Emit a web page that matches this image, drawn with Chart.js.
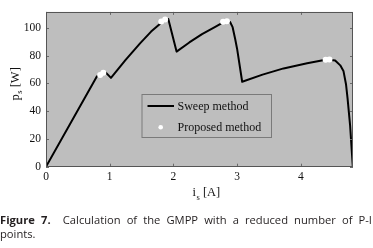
<!DOCTYPE html>
<html>
<head>
<meta charset="utf-8">
<script src="https://cdn.jsdelivr.net/npm/chart.js@4"></script>
<style>
  html, body { margin: 0; padding: 0; background: #fff; }
  #wrap { position: relative; width: 373px; height: 248px; overflow: hidden; }
  #caption {
    position: absolute; left: 0; top: 213px; width: 372px;
    font-family: "Open Sans", sans-serif; font-size: 11.2px; line-height: 14px;
    color: #231f20;
  }
  #caption .l1 { text-align: justify; text-align-last: justify; white-space: nowrap; }
  #caption b { font-weight: 700; }
</style>
</head>
<body>
<div id="wrap">
  <canvas id="pi" width="373" height="248"></canvas>
  <div id="caption">
    <div class="l1"><b>Figure 7.</b>&nbsp; Calculation of the GMPP with a reduced number of P-I</div>
    <div>points.</div>
  </div>
</div>
<script>
// sweep curve, current [A] and power [W]
var sweepI = [0, 0.80, 0.88, 0.94, 1.02, 1.25, 1.48, 1.65, 1.76, 1.85, 1.92, 2.05, 2.25, 2.45, 2.65, 2.81, 2.89,
  2.93, 2.97, 3.00, 3.08, 3.40, 3.73, 4.10, 4.41, 4.54, 4.62, 4.67, 4.71, 4.735, 4.774, 4.817];
var sweepP = [0, 65.1, 67.3, 67.8, 64.0, 77.0, 89.0, 97.3, 101.7, 105.2, 106.3, 82.9, 89.5, 95.5, 100.5, 104.6, 104.2,
  100.5, 92.0, 85.0, 61.2, 66.3, 70.8, 74.5, 77.2, 76.5, 73.0, 69.0, 59.4, 49.0, 30.0, 0];

// proposed method points
var propI = [0.85, 0.90, 1.81, 1.87, 2.78, 2.84, 4.39, 4.45];
var propP = [66.0, 67.6, 104.5, 106.0, 104.4, 104.8, 77.1, 77.3];

var xTicks = [0, 1, 2, 3, 4];
var yTicks = [0, 20, 40, 60, 80, 100];

function toXY(xs, ys) {
  return xs.map(function (x, i) { return { x: x, y: ys[i] }; });
}

var plotBg = "#bebebe";
var serif = "'Liberation Serif', 'DejaVu Serif', serif";

var frame = {
  id: "frame",
  beforeDraw: function (chart) {
    var a = chart.chartArea, c = chart.ctx;
    c.save();
    c.fillStyle = plotBg;
    c.fillRect(a.left, a.top, a.right - a.left, a.bottom - a.top);
    c.restore();
  },
  afterDraw: function (chart) {
    var a = chart.chartArea, c = chart.ctx;
    var xs = chart.scales.x, ys = chart.scales.y;
    c.save();
    // inward ticks on all four sides
    c.strokeStyle = "#6a6a6a";
    c.lineWidth = 1;
    c.beginPath();
    xTicks.forEach(function (t) {
      var px = Math.round(xs.getPixelForValue(t)) + 0.5;
      c.moveTo(px, a.bottom); c.lineTo(px, a.bottom - 3);
      c.moveTo(px, a.top); c.lineTo(px, a.top + 3);
    });
    yTicks.forEach(function (t) {
      var py = Math.round(ys.getPixelForValue(t)) + 0.5;
      c.moveTo(a.left, py); c.lineTo(a.left + 3, py);
      c.moveTo(a.right, py); c.lineTo(a.right - 3, py);
    });
    c.stroke();
    c.strokeStyle = "#555";
    c.strokeRect(Math.round(a.left) + 0.5, Math.round(a.top) + 0.5,
      Math.round(a.right - a.left) - 1, Math.round(a.bottom - a.top) - 1);

    // legend box
    c.fillStyle = plotBg;
    c.fillRect(142, 94.5, 129.5, 43);
    c.strokeStyle = "#7a7a7a";
    c.strokeRect(142, 94.5, 129.5, 43);
    c.strokeStyle = "#000";
    c.lineWidth = 2;
    c.beginPath(); c.moveTo(147.5, 106); c.lineTo(174, 106); c.stroke();
    c.fillStyle = "#fff";
    c.beginPath(); c.arc(160.7, 127.3, 2.3, 0, Math.PI * 2); c.fill();
    c.fillStyle = "#111";
    c.font = "12px " + serif;
    c.textBaseline = "middle";
    c.textAlign = "left";
    c.fillText("Sweep method", 177.5, 106.5);
    c.fillText("Proposed method", 177.5, 127.5);

    // axis titles with subscripts
    c.textBaseline = "alphabetic";
    c.font = "12.5px " + serif;
    var x0 = 192.5;
    c.fillText("i", x0, 196);
    var w = c.measureText("i").width;
    c.font = "8.5px " + serif;
    c.fillText("s", x0 + w + 0.5, 199.5);
    var ws = c.measureText("s").width;
    c.font = "12.5px " + serif;
    c.fillText(" [A]", x0 + w + ws + 0.5, 196);

    c.translate(18.5, 100.5);
    c.rotate(-Math.PI / 2);
    c.fillText("p", 0, 0);
    w = c.measureText("p").width;
    c.font = "8.5px " + serif;
    c.fillText("s", w + 0.5, 3.5);
    ws = c.measureText("s").width;
    c.font = "12.5px " + serif;
    c.fillText(" [W]", w + ws + 0.5, 0);
    c.restore();
  }
};

new Chart(document.getElementById("pi"), {
  type: "scatter",
  data: {
    datasets: [
      {
        label: "Proposed method",
        data: toXY(propI, propP),
        showLine: false,
        pointRadius: 3,
        pointBackgroundColor: "#fff",
        pointBorderWidth: 0,
        order: 0
      },
      {
        label: "Sweep method",
        data: toXY(sweepI, sweepP),
        showLine: true,
        borderColor: "#000",
        borderWidth: 2,
        borderJoinStyle: "round",
        pointRadius: 0,
        tension: 0,
        order: 1
      }
    ]
  },
  plugins: [frame],
  options: {
    responsive: false,
    animation: false,
    layout: { padding: { top: 4, right: 20, left: 0, bottom: 0 } },
    plugins: { legend: { display: false }, tooltip: { enabled: false } },
    scales: {
      x: {
        type: "linear", min: 0, max: 4.82,
        afterBuildTicks: function (s) { s.ticks = xTicks.map(function (v) { return { value: v }; }); },
        afterFit: function (s) { s.height = 81.3; },
        grid: { display: false, drawTicks: false },
        border: { display: false },
        ticks: { padding: 3, color: "#111", font: { family: serif, size: 11.5 }, maxRotation: 0 }
      },
      y: {
        type: "linear", min: 0, max: 111.5,
        afterBuildTicks: function (s) { s.ticks = yTicks.map(function (v) { return { value: v }; }); },
        afterFit: function (s) { s.width = 46; },
        grid: { display: false, drawTicks: false },
        border: { display: false },
        ticks: { padding: 5, color: "#111", font: { family: serif, size: 11.5 } }
      }
    }
  }
});
</script>
</body>
</html>
